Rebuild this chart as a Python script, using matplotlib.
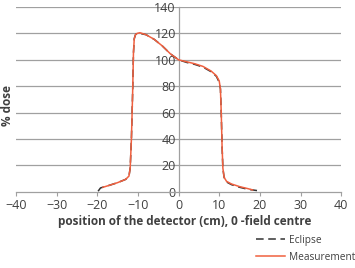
import matplotlib
matplotlib.use("Agg")
import matplotlib.pyplot as plt

meas_x = [-18.6, -17, -15, -13, -12.2, -11.9, -11.6, -11.3, -11.1, -10.9, -10.6, -10.2, -9.5, -8, -6, -4, -2, 0, 2, 4, 6, 8, 9.3, 10.0, 10.3, 10.5, 10.7, 10.9, 11.2, 11.8, 13, 15, 17, 18.2]
meas_y = [3.5, 5, 7, 9.5, 12, 18, 40, 75, 105, 116, 119, 120, 120.5, 119, 115.5, 110.5, 104.5, 100, 98.5, 97, 95, 91.5, 88, 84, 78, 60, 35, 18, 11, 8, 6, 4, 2.5, 1.5]
ecl_x = [-19.8, -19.2, -17, -15, -13, -12.2, -11.9, -11.6, -11.3, -11.1, -10.9, -10.6, -10.2, -9.5, -8, -6, -4, -2, 0, 2, 4, 6, 8, 9.3, 10.0, 10.3, 10.5, 10.7, 10.9, 11.2, 11.8, 13, 15, 17, 19.3]
ecl_y = [0.5, 3, 5, 7, 9.5, 12, 18, 40, 75, 105, 116, 119, 120, 120, 119, 115.5, 110.5, 104.5, 100, 98, 96.5, 94.5, 91, 87.5, 83, 78, 60, 35, 18, 11, 7.5, 5.5, 3.5, 2, 1]
x_ticks = [-40, -30, -20, -10, 0, 10, 20, 30, 40]
y_ticks = [0, 20, 40, 60, 80, 100, 120, 140]

plt.rcParams['font.family'] = ['Open Sans', 'DejaVu Sans']

fig = plt.figure(figsize=(3.55, 2.68), dpi=100)
ax = fig.add_axes([0.045, 0.284, 0.916, 0.69])
ax.set_xlim(-40, 40)
ax.set_ylim(0, 140)

grid_c = '#a0a0a0'
for y in y_ticks[1:]:
    ax.axhline(y, color=grid_c, lw=0.9, zorder=0)

ax.spines['top'].set_visible(False)
ax.spines['right'].set_visible(False)
ax.spines['left'].set_position(('data', 0))
ax.spines['left'].set_color(grid_c)
ax.spines['bottom'].set_color(grid_c)
ax.spines['left'].set_linewidth(0.9)
ax.spines['bottom'].set_linewidth(0.9)

ax.set_xticks(x_ticks)
ax.set_yticks(y_ticks)
ax.tick_params(axis='x', direction='out', length=3, color=grid_c, labelsize=9, labelcolor='#404040', pad=2)
ax.tick_params(axis='y', length=0, labelsize=9, labelcolor='#404040', pad=2)

l1, = ax.plot(ecl_x, ecl_y, color='#333333', lw=1.1, dashes=(5, 3), label='Eclipse', zorder=2)
l2, = ax.plot(meas_x, meas_y, color='#f0603f', lw=1.1, label='Measurement', zorder=3)

fig.text(0.52, 0.172, 'position of the detector (cm), 0 -field centre', ha='center', va='center',
         fontsize=8.5, fontweight='bold', color='#404040')
fig.text(0.022, 0.607, '% dose', ha='center', va='center', rotation=90,
         fontsize=8.5, fontweight='bold', color='#404040')

leg = fig.legend(handles=[l1, l2], loc='upper left', bbox_to_anchor=(256 / 355, 1 - 235 / 268),
                 frameon=False, borderpad=0, borderaxespad=0,
                 fontsize=7.3, handlelength=2.9, labelspacing=0.55, handletextpad=0.4)
for t in leg.get_texts():
    t.set_color('#404040')

fig.savefig('out.png', dpi=100)
